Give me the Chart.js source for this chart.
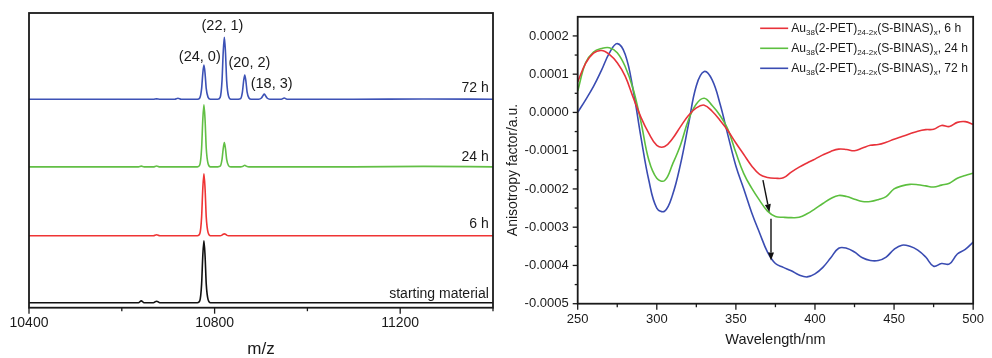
<!DOCTYPE html>
<html>
<head>
<meta charset="utf-8">
<script src="https://cdn.jsdelivr.net/npm/chart.js@4.4.1/dist/chart.umd.min.js"></script>
<style>
  html, body { margin: 0; padding: 0; background: #fff; }
  #wrap { position: relative; width: 992px; height: 358px; overflow: hidden; }
  #msChart { position: absolute; left: 0; top: 0; }
  #cdChart { position: absolute; left: 500px; top: 0; }
</style>
</head>
<body>
<div id="wrap">
  <canvas id="msChart" width="500" height="358"></canvas>
  <canvas id="cdChart" width="492" height="358"></canvas>
</div>
<script>
// ---- left panel: MALDI mass spectra (relative intensity, main peak = 100) ----
const mzValues = [
  10400, 10600, 10636, 10642, 10648, 10668, 10675, 10682, 10714, 10721, 10728,
  10763, 10768, 10772, 10774.5, 10777, 10779.5, 10782, 10786, 10791,
  10807, 10812, 10816, 10818.5, 10821, 10823.5, 10826, 10830, 10835,
  10851, 10856, 10860, 10862.5, 10865, 10867.5, 10870, 10874, 10879,
  10895, 10901, 10904.5, 10907, 10909.5, 10913, 10919,
  10944, 10950, 10956,
  11100, 11250, 11400
];
const ms72h = [
  0, 0, 0, 0, 0, 0, 0.6, 0, 0, 1.5, 0,
  0, 2, 17, 41, 55, 41, 17, 3, 0,
  0, 3, 30, 75, 100, 75, 30, 5, 0,
  0, 1, 12, 29, 39, 29, 12, 2, 0,
  0, 2, 6, 8.5, 6, 2, 0,
  0, 2, 0,
  0, 0.5, 0
];
const ms24h = [
  0, 0, 0, 1.2, 0, 0, 1.5, 0, 0, 0, 0,
  0, 3, 30, 75, 100, 75, 30, 5, 0,
  0, 1, 12, 29, 39, 29, 12, 2, 0,
  0, 0, 0.5, 1.5, 2.5, 1.5, 0.5, 0, 0,
  0, 0, 0, 0, 0, 0, 0,
  0, 0, 0,
  0, 0.8, 0
];
const ms6h = [
  0, 0, 0, 0, 0, 0, 1.5, 0, 0, 0, 0,
  0, 3, 30, 75, 100, 75, 30, 5, 0,
  0, 0, 1, 2.5, 3, 2.5, 1, 0, 0,
  0, 0, 0, 0, 0, 0, 0, 0, 0,
  0, 0, 0, 0, 0, 0, 0,
  0, 0, 0,
  0, 0, 0
];
const msStart = [
  0, 0, 0, 3, 0, 0, 2.5, 0, 0, 0, 0,
  0, 3, 30, 75, 100, 75, 30, 5, 0,
  0, 0, 0, 0, 0, 0, 0, 0, 0,
  0, 0, 0, 0, 0, 0, 0, 0, 0,
  0, 0, 0, 0, 0, 0, 0,
  0, 0, 0,
  0, 0, 0
];
const msTraceNames = ['72 h', '24 h', '6 h', 'starting material'];
const msPeakNames = ['(24, 0)', '(22, 1)', '(20, 2)', '(18, 3)'];
const mzTicks = [10400, 10600, 10800, 11000, 11200, 11400];
const mzTickLabels = ['10400', '', '10800', '', '11200', ''];

// ---- right panel: CD anisotropy factor ----
const wavelengths = [
  250, 255, 260, 265, 270, 275, 280, 285, 290, 295, 300, 305, 310, 315, 320, 325, 330,
  335, 340, 345, 350, 355, 360, 365, 370, 375, 380, 385, 390, 395, 400, 405, 410, 415,
  420, 425, 430, 435, 440, 445, 450, 455, 460, 465, 470, 475, 480, 485, 490, 495, 500
];
const gFactor6h = [
  0.80e-4, 1.28e-4, 1.55e-4, 1.62e-4, 1.52e-4, 1.30e-4, 0.95e-4, 0.40e-4, -0.13e-4, -0.55e-4,
  -0.86e-4, -0.89e-4, -0.68e-4, -0.37e-4, -0.08e-4, 0.12e-4, 0.19e-4, 0.03e-4, -0.21e-4, -0.48e-4,
  -0.80e-4, -1.10e-4, -1.40e-4, -1.62e-4, -1.70e-4, -1.72e-4, -1.71e-4, -1.56e-4, -1.43e-4, -1.32e-4,
  -1.22e-4, -1.11e-4, -1.02e-4, -0.96e-4, -0.97e-4, -1.00e-4, -0.93e-4, -0.86e-4, -0.84e-4, -0.78e-4,
  -0.70e-4, -0.63e-4, -0.56e-4, -0.49e-4, -0.45e-4, -0.44e-4, -0.34e-4, -0.37e-4, -0.26e-4, -0.24e-4,
  -0.31e-4
];
const gFactor24h = [
  0.56e-4, 1.30e-4, 1.58e-4, 1.67e-4, 1.69e-4, 1.56e-4, 1.20e-4, 0.62e-4, -0.25e-4, -1.25e-4,
  -1.72e-4, -1.78e-4, -1.35e-4, -0.85e-4, -0.20e-4, 0.22e-4, 0.37e-4, 0.18e-4, -0.08e-4, -0.45e-4,
  -1.05e-4, -1.60e-4, -1.98e-4, -2.30e-4, -2.58e-4, -2.72e-4, -2.74e-4, -2.75e-4, -2.74e-4, -2.65e-4,
  -2.52e-4, -2.38e-4, -2.25e-4, -2.17e-4, -2.20e-4, -2.27e-4, -2.33e-4, -2.33e-4, -2.28e-4, -2.20e-4,
  -2.00e-4, -1.92e-4, -1.88e-4, -1.89e-4, -1.92e-4, -1.95e-4, -1.90e-4, -1.85e-4, -1.72e-4, -1.65e-4,
  -1.59e-4
];
const gFactor72h = [
  0.00e-4, 0.33e-4, 0.68e-4, 1.10e-4, 1.55e-4, 1.80e-4, 1.52e-4, 0.60e-4, -0.65e-4, -1.78e-4,
  -2.50e-4, -2.58e-4, -2.15e-4, -1.35e-4, -0.32e-4, 0.70e-4, 1.07e-4, 0.85e-4, 0.22e-4, -0.60e-4,
  -1.40e-4, -2.00e-4, -2.62e-4, -3.15e-4, -3.65e-4, -3.95e-4, -4.05e-4, -4.14e-4, -4.25e-4, -4.30e-4,
  -4.22e-4, -4.05e-4, -3.80e-4, -3.55e-4, -3.55e-4, -3.65e-4, -3.80e-4, -3.87e-4, -3.87e-4, -3.78e-4,
  -3.58e-4, -3.47e-4, -3.50e-4, -3.60e-4, -3.78e-4, -4.02e-4, -3.95e-4, -3.96e-4, -3.70e-4, -3.58e-4,
  -3.39e-4
];
const cdTimes = ['6 h', '24 h', '72 h'];
const wlTicks = [250, 275, 300, 325, 350, 375, 400, 425, 450, 475, 500];
const wlTickLabels = ['250', '', '300', '', '350', '', '400', '', '450', '', '500'];
const gTicks = [-0.0005, -0.00045, -0.0004, -0.00035, -0.0003, -0.00025, -0.0002, -0.00015,
  -0.0001, -0.00005, 0, 0.00005, 0.0001, 0.00015, 0.0002];
const gTickLabels = ['-0.0005', '', '-0.0004', '', '-0.0003', '', '-0.0002', '',
  '-0.0001', '', '0.0000', '', '0.0001', '', '0.0002'];

const FONT = '"Liberation Sans", Arial, Helvetica, sans-serif';
const INK = '#1a1a1a';

// box around the plot plus outward tick marks (long for labelled ticks)
function frameTicks(id, withY) {
  return {
    id: id,
    afterDraw(chart) {
      const {ctx, chartArea: a, scales} = chart;
      ctx.save();
      ctx.strokeStyle = INK;
      ctx.lineWidth = 1.8;
      ctx.strokeRect(a.left, a.top, a.right - a.left, a.bottom - a.top);
      ctx.lineWidth = 1.3;
      const xs = scales.x;
      xs.ticks.forEach(t => {
        const px = xs.getPixelForValue(t.value);
        const len = t.label !== '' ? 6 : 3.5;
        ctx.beginPath();
        ctx.moveTo(px, a.bottom);
        ctx.lineTo(px, a.bottom + len);
        ctx.stroke();
      });
      if (withY) {
        const ys = scales.y;
        ys.ticks.forEach(t => {
          const py = ys.getPixelForValue(t.value);
          const len = t.label !== '' ? 5 : 3;
          ctx.beginPath();
          ctx.moveTo(a.left, py);
          ctx.lineTo(a.left - len, py);
          ctx.stroke();
        });
      }
      ctx.restore();
    }
  };
}

// ---------------- left chart ----------------
const msSeries = [ms72h, ms24h, ms6h, msStart];
const msColors = ['#3d52b6', '#62bf45', '#ef3434', '#111111'];
const msAxisIds = ['y72', 'y24', 'y6', 'y0'];
// each trace gets its own hidden scale so the traces sit one above the other
const msRanges = [[-336, 139], [-227, 248], [-116, 359], [-8, 467]];
const traceLabelLevel = [18, 16, 18, 13.5];
const peakLabelMz = [10768, 10817, 10875, 10923];
const peakLabelLevel = [68, 118, 58.5, 24.7];

const msScales = {
  x: {
    type: 'linear', min: 10400, max: 11400,
    afterBuildTicks: s => { s.ticks = mzTicks.map(v => ({value: v})); },
    ticks: {
      autoSkip: false, maxRotation: 0, padding: 7, color: INK,
      font: {family: FONT, size: 14},
      callback: (v, i) => mzTickLabels[i]
    },
    grid: {display: false, drawTicks: false},
    border: {display: false},
    title: {display: true, text: 'm/z', color: INK, font: {family: FONT, size: 17, lineHeight: 1}, padding: 0},
    afterFit: s => { s.height = 50.3; }
  }
};
msAxisIds.forEach((id, i) => {
  msScales[id] = {type: 'linear', display: false, min: msRanges[i][0], max: msRanges[i][1]};
});

const msLabels = {
  id: 'msLabels',
  afterDatasetsDraw(chart) {
    const {ctx, scales} = chart;
    ctx.save();
    ctx.fillStyle = INK;
    ctx.textBaseline = 'middle';
    ctx.textAlign = 'right';
    ctx.font = '14px ' + FONT;
    msTraceNames.forEach((name, i) => {
      ctx.fillText(name, scales.x.getPixelForValue(11391), scales[msAxisIds[i]].getPixelForValue(traceLabelLevel[i]));
    });
    ctx.textAlign = 'center';
    ctx.font = '14.5px ' + FONT;
    msPeakNames.forEach((name, i) => {
      ctx.fillText(name, scales.x.getPixelForValue(peakLabelMz[i]), scales.y72.getPixelForValue(peakLabelLevel[i]));
    });
    ctx.restore();
  }
};

new Chart(document.getElementById('msChart'), {
  type: 'line',
  data: {
    datasets: msSeries.map((vals, i) => ({
      label: msTraceNames[i],
      data: mzValues.map((m, k) => ({x: m, y: vals[k]})),
      yAxisID: msAxisIds[i],
      borderColor: msColors[i],
      borderWidth: 1.6,
      pointRadius: 0,
      cubicInterpolationMode: 'monotone',
      fill: false
    }))
  },
  options: {
    responsive: false,
    animation: false,
    layout: {padding: {left: 29, right: 6, top: 13, bottom: 0}},
    plugins: {legend: {display: false}, tooltip: {enabled: false}},
    scales: msScales
  },
  plugins: [frameTicks('msFrame', false), msLabels]
});

// ---------------- right chart ----------------
const cdSeries = [gFactor6h, gFactor24h, gFactor72h];
const cdColors = ['#e8323a', '#5cbf3f', '#3a4cb2'];
const cdArrows = [[367.1, -1.77e-4, 371.2, -2.61e-4], [372.2, -2.78e-4, 372.2, -3.87e-4]];

const cdDecor = {
  id: 'cdDecor',
  afterDraw(chart) {
    const {ctx, chartArea: a, scales} = chart;
    const xs = scales.x, ys = scales.y;
    ctx.save();
    // arrows
    ctx.strokeStyle = '#111';
    ctx.fillStyle = '#111';
    ctx.lineWidth = 1.4;
    cdArrows.forEach(([x1, y1, x2, y2]) => {
      const p1 = [xs.getPixelForValue(x1), ys.getPixelForValue(y1)];
      const p2 = [xs.getPixelForValue(x2), ys.getPixelForValue(y2)];
      const ang = Math.atan2(p2[1] - p1[1], p2[0] - p1[0]);
      const hl = 8, hw = 3;
      const bx = p2[0] - hl * Math.cos(ang), by = p2[1] - hl * Math.sin(ang);
      ctx.beginPath();
      ctx.moveTo(p1[0], p1[1]);
      ctx.lineTo(bx, by);
      ctx.stroke();
      ctx.beginPath();
      ctx.moveTo(p2[0], p2[1]);
      ctx.lineTo(bx + hw * Math.sin(ang), by - hw * Math.cos(ang));
      ctx.lineTo(bx - hw * Math.sin(ang), by + hw * Math.cos(ang));
      ctx.closePath();
      ctx.fill();
    });
    // legend with subscripts
    const x0 = a.right - 213, x1 = a.right - 185, tx = a.right - 182;
    cdTimes.forEach((t, i) => {
      const y = a.top + 11.5 + i * 20;
      ctx.strokeStyle = cdColors[i];
      ctx.lineWidth = 1.6;
      ctx.beginPath();
      ctx.moveTo(x0, y);
      ctx.lineTo(x1, y);
      ctx.stroke();
      const parts = [['Au', 0], ['38', 1], ['(2-PET)', 0], ['24-2x', 1], ['(S-BINAS)', 0], ['x', 1], [', ' + t, 0]];
      let x = tx;
      ctx.fillStyle = INK;
      ctx.textAlign = 'left';
      ctx.textBaseline = 'middle';
      parts.forEach(([s, sub]) => {
        ctx.font = (sub ? '8px ' : '12.1px ') + FONT;
        ctx.fillText(s, x, y + (sub ? 4.5 : 0));
        x += ctx.measureText(s).width;
      });
    });
    // y axis title
    ctx.translate(13, 170);
    ctx.rotate(-Math.PI / 2);
    ctx.fillStyle = INK;
    ctx.textAlign = 'center';
    ctx.textBaseline = 'middle';
    ctx.font = '14px ' + FONT;
    ctx.fillText('Anisotropy factor/a.u.', 0, 0);
    ctx.restore();
  }
};

new Chart(document.getElementById('cdChart'), {
  type: 'line',
  data: {
    datasets: cdSeries.map((vals, i) => ({
      label: 'Au38(2-PET)24-2x(S-BINAS)x, ' + cdTimes[i],
      data: wavelengths.map((w, k) => ({x: w, y: vals[k]})),
      borderColor: cdColors[i],
      borderWidth: 1.6,
      pointRadius: 0,
      tension: 0.4,
      fill: false
    }))
  },
  options: {
    responsive: false,
    animation: false,
    layout: {padding: {left: 0, right: 11, top: 15.7, bottom: 0}},
    plugins: {legend: {display: false}, tooltip: {enabled: false}},
    scales: {
      x: {
        type: 'linear', min: 250, max: 500,
        afterBuildTicks: s => { s.ticks = wlTicks.map(v => ({value: v})); },
        ticks: {
          autoSkip: false, maxRotation: 0, padding: 8, color: INK,
          font: {family: FONT, size: 13},
          callback: (v, i) => wlTickLabels[i]
        },
        grid: {display: false, drawTicks: false},
        border: {display: false},
        title: {display: true, text: 'Wavelength/nm', color: INK, font: {family: FONT, size: 14.5, lineHeight: 1}, padding: {top: 0, bottom: 11}},
        afterFit: s => { s.height = 54.3; }
      },
      y: {
        type: 'linear', min: -0.0005, max: 0.00025,
        afterBuildTicks: s => { s.ticks = gTicks.map(v => ({value: v})); },
        ticks: {
          autoSkip: false, padding: 9, color: INK,
          font: {family: FONT, size: 13},
          callback: (v, i) => gTickLabels[i]
        },
        grid: {display: false, drawTicks: false},
        border: {display: false},
        afterFit: s => { s.width = 77.7; }
      }
    }
  },
  plugins: [frameTicks('cdFrame', true), cdDecor]
});
</script>
</body>
</html>
